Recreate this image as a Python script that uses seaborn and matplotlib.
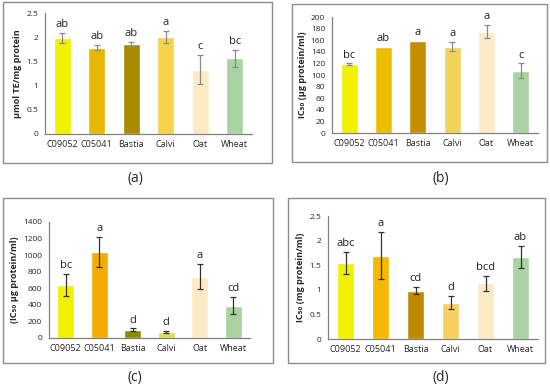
import numpy as np
import pandas as pd
import matplotlib
matplotlib.use("Agg")
import matplotlib.pyplot as plt
import seaborn as sns
from matplotlib.patches import Rectangle
from matplotlib.ticker import MultipleLocator, FixedLocator

cats = ['C09052', 'C05041', 'Bastia', 'Calvi', 'Oat', 'Wheat']

# (a) antioxidant capacity
a_vals = [1.98, 1.78, 1.86, 2.00, 1.33, 1.56]
a_err = [0.10, 0.05, 0.05, 0.12, 0.30, 0.18]
a_letters = ['ab', 'ab', 'ab', 'a', 'c', 'bc']

# (b) IC50 ug protein/ml
b_vals = [119, 149, 159, 149, 175, 107]
b_err = [1, 0, 0, 8, 12, 13]
b_letters = ['bc', 'ab', 'a', 'a', 'a', 'c']

# (c) IC50 ug protein/ml
c_vals = [640, 1040, 100, 72, 740, 392]
c_err = [128, 184, 15, 15, 150, 105]
c_letters = ['bc', 'a', 'd', 'd', 'a', 'cd']

# (d) IC50 mg protein/ml
d_vals = [1.54, 1.69, 0.98, 0.74, 1.13, 1.67]
d_err = [0.22, 0.48, 0.07, 0.14, 0.15, 0.22]
d_letters = ['abc', 'a', 'cd', 'd', 'bcd', 'ab']

sns.set_style("white")
plt.rcParams['font.family'] = ['Open Sans', 'DejaVu Sans']

W, H = 550, 391
fig = plt.figure(figsize=(5.5, 3.91), dpi=100)


def fr(x0, y0, x1, y1):
    # pixel box -> figure fraction [l, b, w, h]
    return [x0 / W, 1 - y1 / H, (x1 - x0) / W, (y1 - y0) / H]


def panel(axbox, box, lab, lab_xy, vals, errs, letters, colors, ymax, ystep,
          ylabel, ecolor, fmt):
    # outer grey frame like the Excel chart area
    b = fr(*box)
    fig.patches.append(Rectangle((b[0], b[1]), b[2], b[3], transform=fig.transFigure,
                                 fill=False, edgecolor='#8c8c8c', linewidth=1.0))
    ax = fig.add_axes(fr(*axbox))
    df = pd.DataFrame({'cat': cats, 'val': vals})
    sns.barplot(data=df, x='cat', y='val', hue='cat', palette=colors, legend=False,
                width=0.5, saturation=1, ax=ax, errorbar=None)
    x = np.arange(len(cats))
    e = np.array(errs, dtype=float)
    m = e > 0
    ax.errorbar(x[m], np.array(vals)[m], yerr=e[m], fmt='none', ecolor=ecolor,
                elinewidth=0.9, capsize=2, capthick=0.9)
    off = ymax * 0.025
    for xi, v, er, t in zip(x, vals, errs, letters):
        ax.text(xi, v + er + off, t, ha='center', va='bottom', fontsize=8, color='#222222')
    ax.set_xlim(-0.5, len(cats) - 0.5)
    ax.set_ylim(0, ymax)
    ax.yaxis.set_major_locator(MultipleLocator(ystep))
    ax.yaxis.set_major_formatter(plt.FuncFormatter(fmt))
    ax.xaxis.set_minor_locator(FixedLocator(np.arange(-0.5, len(cats), 1.0)))
    ax.tick_params(axis='x', which='major', length=0, labelsize=6.5, pad=4)
    ax.tick_params(axis='x', which='minor', length=3, width=0.8, color='#808080', direction='out')
    ax.tick_params(axis='y', which='major', length=3, width=0.8, color='#808080',
                   direction='out', labelsize=6, pad=2)
    for s in ['top', 'right']:
        ax.spines[s].set_visible(False)
    for s in ['left', 'bottom']:
        ax.spines[s].set_color('#808080')
        ax.spines[s].set_linewidth(0.9)
    ax.set_xlabel('')
    ax.set_ylabel(ylabel, fontsize=6.5, fontweight='bold', labelpad=3)
    fig.text(lab_xy[0] / W, 1 - lab_xy[1] / H, lab, ha='center', va='center', fontsize=10)
    return ax


f1 = lambda v, p: ('%g' % v)
f2 = lambda v, p: ('%d' % v)

panel((45, 13, 252, 134), (3, 2, 272, 163), '(a)', (135, 178), a_vals, a_err, a_letters,
      ['#F2F200', '#E8B800', '#A88A00', '#F7D24A', '#FCEBC4', '#A9D3A0'],
      2.5, 0.5, 'µmol TE/mg protein', '#8a8a8a', f1)
panel((332, 17, 538, 133), (292, 4, 547, 162), '(b)', (441, 178), b_vals, b_err, b_letters,
      ['#F2F200', '#EDBE00', '#C48E00', '#F0D45A', '#FCEBC4', '#A9D3A0'],
      200, 20, 'IC₅₀ (µg protein/ml)', '#8a8a8a', f2)
panel((49, 222, 250, 338), (3, 198, 273, 363), '(c)', (135, 378), c_vals, c_err, c_letters,
      ['#F2F200', '#F5AC00', '#8C8C00', '#DDE14A', '#FCEBC4', '#A9D3A0'],
      1400, 200, '(IC₅₀ µg protein/ml)', '#333333', f2)
panel((328, 216, 538, 339), (288, 198, 545, 363), '(d)', (441, 378), d_vals, d_err, d_letters,
      ['#F2F200', '#F5B800', '#C08A00', '#F8D060', '#FCEBC4', '#A9D3A0'],
      2.5, 0.5, 'IC₅₀ (mg protein/ml)', '#333333', f1)

fig.savefig('out.png', dpi=100)
